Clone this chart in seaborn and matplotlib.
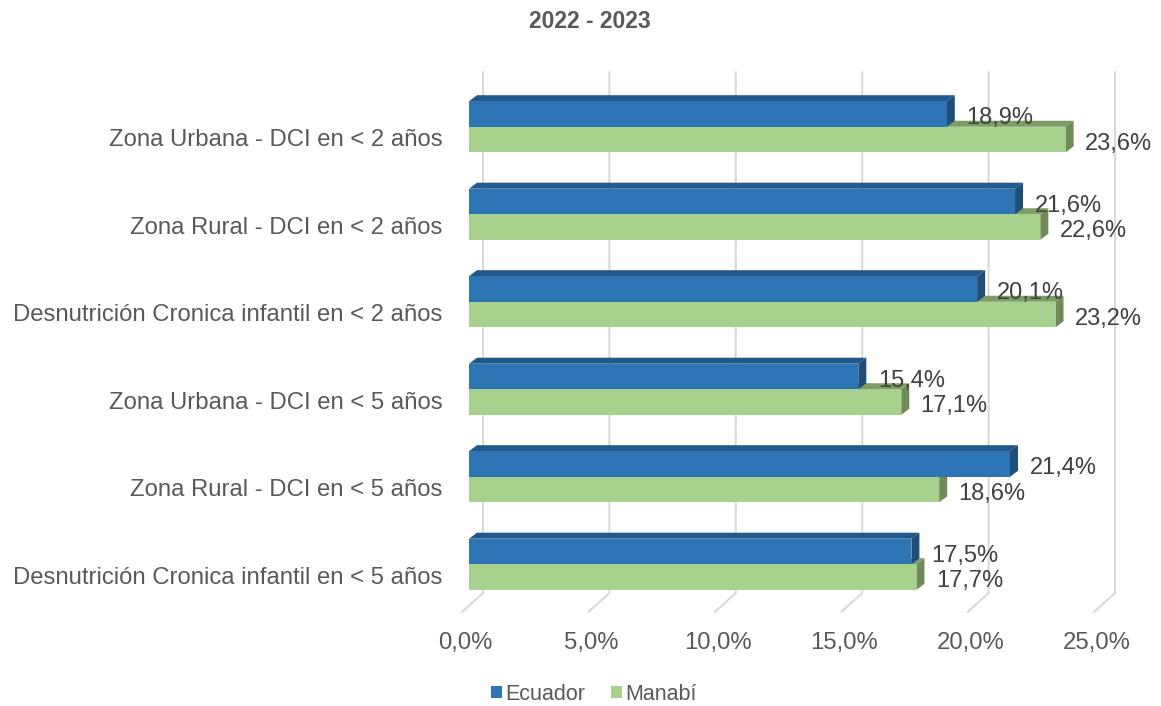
import matplotlib
matplotlib.use("Agg")
import matplotlib.pyplot as plt
import seaborn as sns
import pandas as pd
from matplotlib.patches import Polygon, Patch
from matplotlib.lines import Line2D
from matplotlib.transforms import ScaledTranslation, IdentityTransform

# data
categories = [
    "Zona Urbana - DCI en < 2 años",
    "Zona Rural - DCI en < 2 años",
    "Desnutrición Cronica infantil en < 2 años",
    "Zona Urbana - DCI en < 5 años",
    "Zona Rural - DCI en < 5 años",
    "Desnutrición Cronica infantil en < 5 años",
]
ecuador = [18.9, 21.6, 20.1, 15.4, 21.4, 17.5]
manabi = [23.6, 22.6, 23.2, 17.1, 18.6, 17.7]
series = ["Ecuador", "Manabí"]
x_ticks = [0, 5, 10, 15, 20, 25]

df = pd.DataFrame({
    "categoria": categories * 2,
    "valor": ecuador + manabi,
    "serie": [series[0]] * len(ecuador) + [series[1]] * len(manabi),
})

front_col = {"Ecuador": "#2E75B6", "Manabí": "#A9D18E"}
top_col = {"Ecuador": "#22598C", "Manabí": "#7E9C66"}
side_col = {"Ecuador": "#1F4E79", "Manabí": "#6E8B58"}

sns.set_style("white")
plt.rcParams["font.family"] = ["Liberation Sans", "DejaVu Sans"]

W, H = 1161, 706
fig = plt.figure(figsize=(W / 100, H / 100), dpi=100)
ax = fig.add_axes([469 / W, (H - 608) / H, 632 / W, 525 / H])

sns.barplot(data=df, y="categoria", x="valor", hue="serie", hue_order=series,
            palette=front_col, orient="h", width=0.584, saturation=1,
            errorbar=None, ax=ax, zorder=3, edgecolor="none", linewidth=0)
ax.set_xlim(0, 25)
ax.set_ylim(5.5, -0.5)
ax.get_legend().remove()
ax.set_xlabel("")
ax.set_ylabel("")
for s in ax.spines.values():
    s.set_visible(False)

# fake 3D: top and side faces behind each bar
dx, dy = 8, 6
for name, cont, z in [(series[1], ax.containers[1], 2.4), (series[0], ax.containers[0], 2.6)]:
    for bar in cont:
        x0, y0 = bar.get_x(), bar.get_y()
        (ax0, ay0), (ax1, ay1) = ax.transData.transform(
            [(x0, y0), (x0 + bar.get_width(), y0 + bar.get_height())])
        L, R = min(ax0, ax1), max(ax0, ax1)
        B, T = min(ay0, ay1), max(ay0, ay1)
        ax.add_patch(Polygon([(L, T), (R, T), (R + dx, T + dy), (L + dx, T + dy)],
                             closed=True, facecolor=top_col[name], edgecolor="none",
                             transform=IdentityTransform(), clip_on=False, zorder=z))
        ax.add_patch(Polygon([(R, B), (R, T), (R + dx, T + dy), (R + dx, B + dy)],
                             closed=True, facecolor=side_col[name], edgecolor="none",
                             transform=IdentityTransform(), clip_on=False, zorder=z))

# back-wall gridlines and floor lines
for t in x_ticks:
    fx, fy = ax.transData.transform((t, 5.5))
    ax.add_line(Line2D([fx - 7, fx + 14, fx + 14], [fy - 4, fy + 15, H - 72],
                       color="#D9D9D9", lw=1.5, transform=IdentityTransform(),
                       clip_on=False, zorder=1))

# data labels
for vals, cont in zip([ecuador, manabi], ax.containers):
    texts = ax.bar_label(cont, labels=[f"{v:.1f}%".replace(".", ",") for v in vals],
                         padding=14, fontsize=17, color="#404040")
    for tx in texts:
        tx.xyann = (tx.xyann[0], tx.xyann[1] - 3)

ax.set_xticks(x_ticks)
ax.set_xticklabels([f"{t:.1f}%".replace(".", ",") for t in x_ticks])
ax.tick_params(axis="both", length=0, labelsize=17.2, labelcolor="#595959")
ax.tick_params(axis="x", pad=17)
ax.tick_params(axis="y", pad=19)
for lab in ax.get_xticklabels():
    lab.set_transform(lab.get_transform() + ScaledTranslation(-0.04, 0, fig.dpi_scale_trans))
for lab in ax.get_yticklabels():
    lab.set_transform(lab.get_transform() + ScaledTranslation(0, -0.11, fig.dpi_scale_trans))

fig.text(590 / W, 1 - 21 / H, "2022 - 2023", ha="center", va="center",
         fontsize=16.5, fontweight="bold", color="#595959")

handles = [Patch(facecolor=front_col[s], edgecolor="none") for s in series]
fig.legend(handles, series, loc="center", bbox_to_anchor=(594 / W, 1 - 694 / H),
           ncol=2, frameon=False, fontsize=15.5, labelcolor="#595959",
           handlelength=0.5, handleheight=0.5, handletextpad=0.15, columnspacing=1.2)

fig.savefig("out.png", dpi=100)
